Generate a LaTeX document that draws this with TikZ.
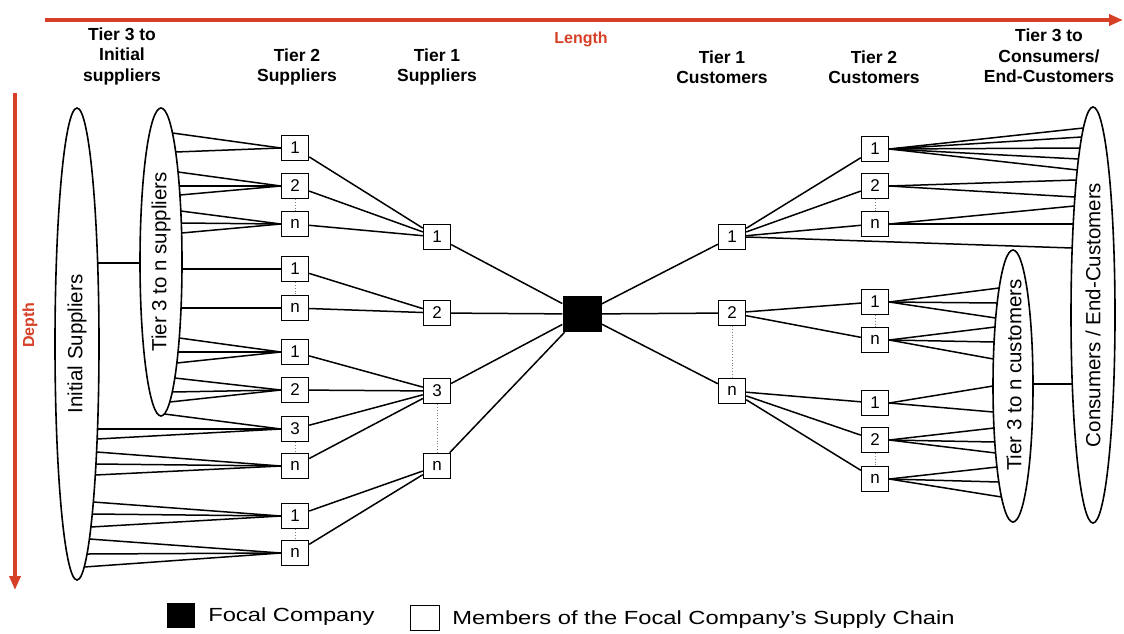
\documentclass[tikz,border=0pt]{standalone}
\usepackage{fontspec}
\setmainfont{Liberation Sans}
\usetikzlibrary{calc,shapes.geometric,arrows.meta}
\definecolor{axisred}{RGB}{214,64,38}
% point on the east / west border of a vertical ellipse node, given a vertical offset
\newcommand{\eR}[4]{($(#1.center)+({#2*sqrt(1-((#4)/(#3))^2)},{#4})$)}
\newcommand{\eL}[4]{($(#1.center)+({-#2*sqrt(1-((#4)/(#3))^2)},{#4})$)}
\tikzset{
  mbox/.style={draw, fill=white, line width=1.4pt, minimum width=27pt, minimum height=25pt, inner sep=0pt, font=\fontsize{17}{17}\selectfont},
  focalbox/.style={fill=black, minimum width=39pt, minimum height=36pt, inner sep=0pt},
  ell/.style={draw, ellipse, line width=1.6pt, inner sep=0pt, rotate=90, font=\fontsize{20.5}{20.5}\selectfont},
  elltext/.style={rotate=90, inner sep=0pt, font=\fontsize{20.5}{20.5}\selectfont},
  conn/.style={line width=1.5pt},
  dots/.style={dotted, line width=0.8pt, gray},
  head/.style={align=center, font=\fontsize{17.5}{20.5}\selectfont\bfseries},
  axis/.style={draw=axisred, line width=3.5pt, -{Triangle[length=14pt,width=11pt]}},
  axlabel/.style={text=axisred, font=\fontsize{16}{16}\selectfont\bfseries},
  legtext/.style={anchor=west, inner sep=0pt, xscale=1.25, font=\fontsize{19}{19}\selectfont}
}
\begin{document}
\begin{tikzpicture}[x=1pt,y=-1pt]
\useasboundingbox (0,0) rectangle (1124,633);

% axes
\coordinate (lenS) at (45,20);
\coordinate (lenE) at (1123,20);
\coordinate (depS) at (15,93);
\coordinate (depE) at (15,590);
\draw[axis] (lenS) -- (lenE);
\draw[axis] (depS) -- (depE);
\node[axlabel] (lenL) at (581,39) {Length};
\node[axlabel, rotate=90] (depL) at (30,325) {Depth};

% headers
\node[head] (h1) at (122,56) {Tier 3 to\\Initial\\suppliers};
\node[head] (h2) at (297,67) {Tier 2\\Suppliers};
\node[head] (h3) at (437,67) {Tier 1\\Suppliers};
\node[head] (h4) at (722,67) {Tier 1\\Customers};
\node[head] (h5) at (874,67) {Tier 2\\Customers};
\node[head] (h6) at (1049,56) {Tier 3 to\\Consumers/\\End-Customers};

% ellipses
\node[ell, minimum width=472pt, minimum height=44pt] (initS) at (77,344) {Initial Suppliers};
\node[ell, minimum width=308pt, minimum height=42pt] (t3S) at (161,262) {Tier 3 to n suppliers};
\node[ell, minimum width=416pt, minimum height=44pt] (cons) at (1093,315) {Consumers / End-Customers};
\node[ell, minimum width=272pt, minimum height=40pt] (t3C) at (1013,386) {};
\node[elltext] (t3Ct) at (1014,375) {Tier 3 to n customers};

% tier 2 suppliers
\node[mbox] (s2a1) at (295,148) {1};
\node[mbox] (s2a2) at (295,186) {2};
\node[mbox] (s2an) at (295,224) {n};
\node[mbox] (s2b1) at (295,269) {1};
\node[mbox] (s2bn) at (295,308) {n};
\node[mbox] (s2c1) at (295,352) {1};
\node[mbox] (s2c2) at (295,390) {2};
\node[mbox] (s2c3) at (295,429) {3};
\node[mbox] (s2cn) at (295,466) {n};
\node[mbox] (s2d1) at (295,516) {1};
\node[mbox] (s2dn) at (295,553) {n};

% tier 1 suppliers
\node[mbox] (s1a) at (437,237) {1};
\node[mbox] (s1b) at (437,313) {2};
\node[mbox] (s1c) at (437,391) {3};
\node[mbox] (s1n) at (437,466) {n};

% focal
\node[focalbox] (focal) at (582,314) {};

% tier 1 customers
\node[mbox] (c1a) at (732,237) {1};
\node[mbox] (c1b) at (732,313) {2};
\node[mbox] (c1n) at (732,391) {n};

% tier 2 customers
\node[mbox] (c2a1) at (875,149) {1};
\node[mbox] (c2a2) at (875,186) {2};
\node[mbox] (c2an) at (875,224) {n};
\node[mbox] (c2b1) at (875,302) {1};
\node[mbox] (c2bn) at (875,340) {n};
\node[mbox] (c2c1) at (875,403) {1};
\node[mbox] (c2c2) at (875,440) {2};
\node[mbox] (c2cn) at (875,479) {n};

% ellipse links
\draw[conn] \eR{initS}{22}{236}{-81} -- \eL{t3S}{21}{154}{1};
\draw[conn] \eR{t3C}{20}{136}{-2} -- \eL{cons}{22}{208}{69};

% supplier fans
\foreach \k in {-129,-110} \draw[conn] (s2a1.west) -- \eR{t3S}{21}{154}{\k};
\foreach \k in {-90,-76,-67} \draw[conn] (s2a2.west) -- \eR{t3S}{21}{154}{\k};
\foreach \k in {-51,-39,-29} \draw[conn] (s2an.west) -- \eR{t3S}{21}{154}{\k};
\draw[conn] (s2b1.west) -- \eR{t3S}{21}{154}{7};
\draw[conn] (s2bn.west) -- \eR{t3S}{21}{154}{46};
\foreach \k in {76,90,101} \draw[conn] (s2c1.west) -- \eR{t3S}{21}{154}{\k};
\foreach \k in {116,130,140} \draw[conn] (s2c2.west) -- \eR{t3S}{21}{154}{\k};
\draw[conn] (s2c3.west) -- \eR{t3S}{21}{154}{152};
\foreach \k in {85,95} \draw[conn] (s2c3.west) -- \eR{initS}{22}{236}{\k};
\foreach \k in {108,120,131} \draw[conn] (s2cn.west) -- \eR{initS}{22}{236}{\k};
\foreach \k in {158,170,183} \draw[conn] (s2d1.west) -- \eR{initS}{22}{236}{\k};
\foreach \k in {195,210,223} \draw[conn] (s2dn.west) -- \eR{initS}{22}{236}{\k};

% customer fans
\foreach \k in {-187,-178,-167,-156,-145} \draw[conn] (c2a1.east) -- \eL{cons}{22}{208}{\k};
\foreach \k in {-135,-118} \draw[conn] (c2a2.east) -- \eL{cons}{22}{208}{\k};
\foreach \k in {-109,-91} \draw[conn] (c2an.east) -- \eL{cons}{22}{208}{\k};
\draw[conn] (c1a.east) -- \eL{cons}{22}{208}{-67};
\foreach \k in {-98,-83,-68} \draw[conn] (c2b1.east) -- \eL{t3C}{20}{136}{\k};
\foreach \k in {-59,-44,-27} \draw[conn] (c2bn.east) -- \eL{t3C}{20}{136}{\k};
\foreach \k in {0,26} \draw[conn] (c2c1.east) -- \eL{t3C}{20}{136}{\k};
\foreach \k in {42,56,67} \draw[conn] (c2c2.east) -- \eL{t3C}{20}{136}{\k};
\foreach \k in {81,96,111} \draw[conn] (c2cn.east) -- \eL{t3C}{20}{136}{\k};

% tier 2 -> tier 1 suppliers
\foreach \b in {s2a1,s2a2,s2an} \draw[conn] (\b) -- (s1a);
\foreach \b in {s2b1,s2bn} \draw[conn] (\b) -- (s1b);
\foreach \b in {s2c1,s2c2,s2c3,s2cn} \draw[conn] (\b) -- (s1c);
\foreach \b in {s2d1,s2dn} \draw[conn] (\b) -- (s1n);

% tier 1 suppliers -> focal -> tier 1 customers
\foreach \b in {s1a,s1b,s1c,s1n} \draw[conn] (\b) -- (focal);
\foreach \b in {c1a,c1b,c1n} \draw[conn] (focal) -- (\b);

% tier 1 customers -> tier 2 customers
\foreach \b in {c2a1,c2a2,c2an} \draw[conn] (c1a) -- (\b);
\foreach \b in {c2b1,c2bn} \draw[conn] (c1b) -- (\b);
\foreach \b in {c2c1,c2c2,c2cn} \draw[conn] (c1n) -- (\b);

% dotted continuation marks
\draw[dots] (s2a2.south) -- (s2an.north);
\draw[dots] (s2b1.south) -- (s2bn.north);
\draw[dots] (s2c3.south) -- (s2cn.north);
\draw[dots] (s2d1.south) -- (s2dn.north);
\draw[dots] (s1c.south) -- (s1n.north);
\draw[dots] (c1b.south) -- (c1n.north);
\draw[dots] (c2a2.south) -- (c2an.north);
\draw[dots] (c2b1.south) -- (c2bn.north);
\draw[dots] (c2c2.south) -- (c2cn.north);

% legend
\node[fill=black, minimum width=28pt, minimum height=25pt, inner sep=0pt] (lgF) at (181,615) {};
\node[legtext] (lgFt) at (208,617) {Focal Company};
\node[draw, line width=1.2pt, minimum width=29pt, minimum height=25pt, inner sep=0pt] (lgM) at (425,618) {};
\node[legtext] (lgMt) at (452,620) {Members of the Focal Company's Supply Chain};
\end{tikzpicture}
\end{document}
